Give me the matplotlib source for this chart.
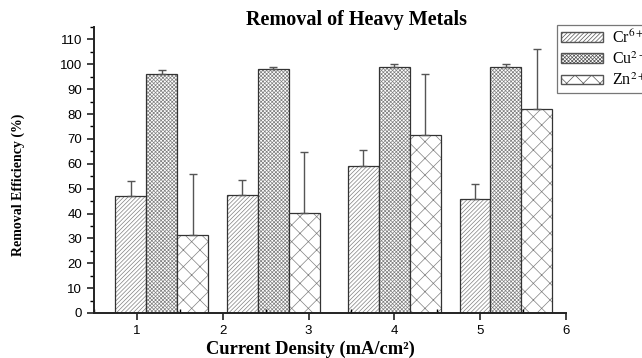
import matplotlib.pyplot as plt
from matplotlib.patches import Patch
from matplotlib.ticker import MultipleLocator

# Removal efficiency (%) for each metal at four current densities
group_pos = [1.29, 2.59, 4.0, 5.3]
labels = ['Cr$^{6+}$', 'Cu$^{2+}$', 'Zn$^{2+}$']
cr = [47.0, 47.4, 59.2, 45.8]
cu = [96.2, 98.1, 99.0, 99.0]
zn = [31.4, 40.3, 71.6, 82.0]
cr_err = [6.1, 6.1, 6.2, 6.0]
cu_err = [1.3, 1.0, 1.0, 1.0]
zn_err = [24.4, 24.4, 24.4, 24.3]

plt.rcParams['font.family'] = 'Liberation Sans'
plt.rcParams['mathtext.fontset'] = 'stix'
plt.rcParams['hatch.linewidth'] = 0.5

fig = plt.figure(figsize=(6.42, 3.58), dpi=100)
ax = fig.add_axes([0.1464, 0.1257, 0.7352, 0.799])

width = 0.36
hatches = ['////////', 'xxxxxxxxx', 'xx']
series = [(cr, cr_err), (cu, cu_err), (zn, zn_err)]
for i, (vals, err) in enumerate(series):
    xs = [p + (i - 1) * width for p in group_pos]
    ax.bar(xs, vals, width, color='white', edgecolor='#808080',
           hatch=hatches[i], linewidth=0)
    ax.bar(xs, vals, width, fill=False, edgecolor='#333333', linewidth=0.9)
    ax.errorbar(xs, vals, yerr=[[0] * len(vals), err], fmt='none',
                ecolor='#555555', elinewidth=1.0, capsize=3, capthick=1.0)

ax.set_xlim(0.5, 6)
ax.set_ylim(0, 115)
ax.xaxis.set_minor_locator(MultipleLocator(0.5))
ax.yaxis.set_minor_locator(MultipleLocator(5))
ax.set_yticks(range(0, 111, 10))
ax.set_xticks(range(1, 7))
ax.tick_params(axis='both', which='major', direction='out', length=5,
               width=1.2, labelsize=9.5, color='#222222')
ax.tick_params(axis='y', which='minor', direction='out', length=3, width=1.0)
ax.tick_params(axis='x', which='minor', direction='in', length=3, width=1.0)

for side in ['top', 'right']:
    ax.spines[side].set_visible(False)
for side in ['left', 'bottom']:
    ax.spines[side].set_linewidth(1.4)
    ax.spines[side].set_color('#222222')

fig.text(0.555, 0.945, 'Removal of Heavy Metals', ha='center', va='center',
         family='Liberation Serif', fontweight='bold', fontsize=14.5)
fig.text(0.483, 0.025, 'Current Density (mA/cm²)', ha='center', va='center',
         family='Liberation Serif', fontweight='bold', fontsize=13.3)
fig.text(0.028, 0.483, 'Removal Efficiency (%)', ha='center', va='center',
         rotation=90, family='Liberation Serif', fontweight='bold',
         fontsize=10)

handles = [Patch(facecolor='white', edgecolor='#555555', hatch=h) for h in hatches]
leg = fig.legend(handles, labels, loc='upper left',
                 bbox_to_anchor=(0.868, 0.93), frameon=True, fancybox=False,
                 prop={'family': 'Liberation Serif', 'size': 11.5},
                 handlelength=2.6, handleheight=0.55, labelspacing=0.3,
                 borderpad=0.25, borderaxespad=0.0, handletextpad=0.6)
leg.get_frame().set_edgecolor('#555555')
leg.get_frame().set_linewidth(0.9)

fig.savefig('out.png', dpi=100)
